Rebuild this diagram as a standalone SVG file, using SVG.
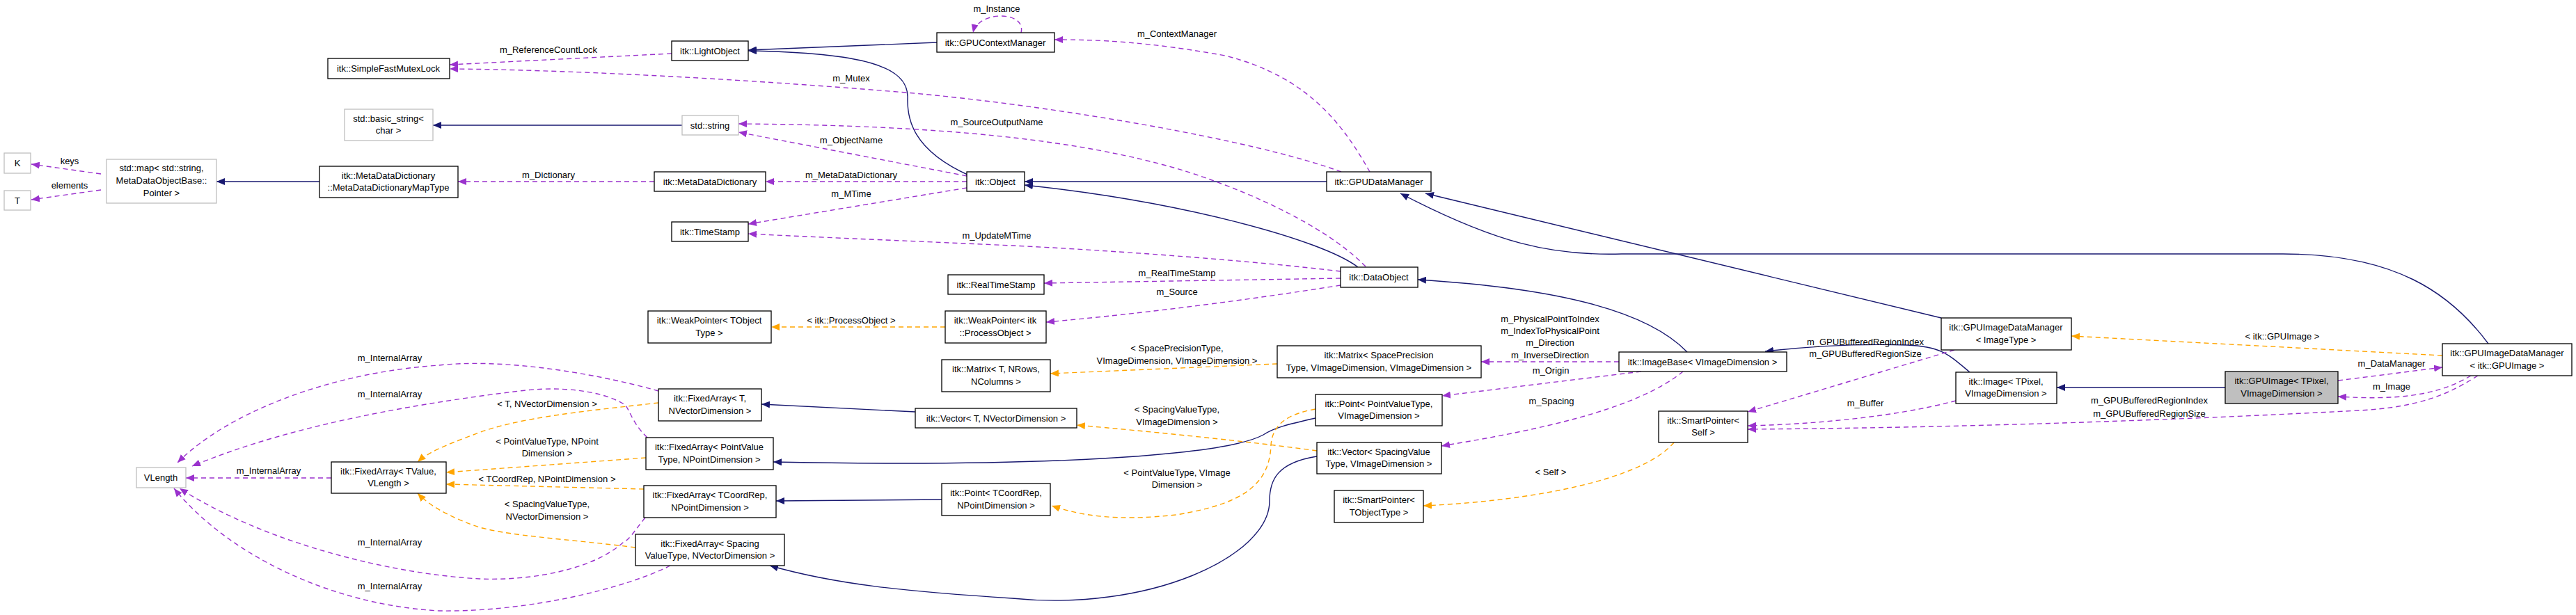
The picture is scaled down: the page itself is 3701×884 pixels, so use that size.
<svg xmlns="http://www.w3.org/2000/svg" width="3701" height="884" viewBox="0 0 3701 884">
<style>
text{font-family:"Liberation Sans",Arial,sans-serif;font-size:13px;fill:#000}
.n text{text-anchor:middle}
.n rect{fill:#fff;stroke:#000;stroke-width:1.3}
.g rect{stroke:#bfbfbf}
.sel rect{fill:#bfbfbf}
.e path{fill:none;stroke-width:1.4}
.inh{stroke:#191970}
.use{stroke:#9a32cd;stroke-dasharray:7,5}
.tpl{stroke:#ffa500;stroke-dasharray:7,5}
.lb text{text-anchor:middle}
</style>
<defs>
<marker id="an" markerUnits="userSpaceOnUse" markerWidth="13" markerHeight="10" refX="12" refY="5" orient="auto"><path d="M0,0L12,5L0,10z" fill="#191970"/></marker>
<marker id="ap" markerUnits="userSpaceOnUse" markerWidth="13" markerHeight="10" refX="12" refY="5" orient="auto"><path d="M0,0L12,5L0,10z" fill="#9a32cd"/></marker>
<marker id="ao" markerUnits="userSpaceOnUse" markerWidth="13" markerHeight="10" refX="12" refY="5" orient="auto"><path d="M0,0L12,5L0,10z" fill="#ffa500"/></marker>
</defs>
<rect width="3701" height="884" fill="#fff"/>
<g id="connectors" class="e">
<path class="inh" marker-end="url(#an)" d="M1346,61L1075,72"/>
<path class="inh" marker-end="url(#an)" d="M1392,252C1310,215 1303,170 1304,140C1305,95 1240,76 1075,73"/>
<path class="inh" marker-end="url(#an)" d="M1906,261L1472,261"/>
<path class="inh" marker-end="url(#an)" d="M1951,384C1900,345 1700,290 1472,266"/>
<path class="inh" marker-end="url(#an)" d="M2424,506C2370,450 2250,415 2037,402"/>
<path class="inh" marker-end="url(#an)" d="M2830,535C2800,510 2790,498 2740,496C2650,493 2580,500 2536,505"/>
<path class="inh" marker-end="url(#an)" d="M3197,557L2955,557"/>
<path class="inh" marker-end="url(#an)" d="M3575,494C3520,420 3440,365 3280,365L2330,365C2230,368 2150,350 2012,278"/>
<path class="inh" marker-end="url(#an)" d="M2789,457L2048,278"/>
<path class="inh" marker-end="url(#an)" d="M980,180L622,180"/>
<path class="inh" marker-end="url(#an)" d="M459,261L311,261"/>
<path class="inh" marker-end="url(#an)" d="M1315,592L1094,581"/>
<path class="inh" marker-end="url(#an)" d="M1353,718L1115,720"/>
<path class="inh" marker-end="url(#an)" d="M1890,601C1850,610 1830,615 1815,625C1760,655 1500,672 1111,664"/>
<path class="inh" marker-end="url(#an)" d="M1892,656C1835,665 1824,690 1824,720C1824,800 1650,880 1454,860C1300,850 1200,840 1106,813"/>
<path class="use" marker-end="url(#ap)" d="M965,77L646,93"/>
<path class="use" marker-end="url(#ap)" d="M1927,247C1800,200 1500,150 1301,133C1050,112 800,100 646,99"/>
<path class="use" marker-end="url(#ap)" d="M1968,247C1930,180 1880,110 1760,80C1650,60 1580,57 1515,57"/>
<path class="use" marker-end="url(#ap)" d="M1467,47C1475,15 1405,15 1398,47"/>
<path class="use" marker-end="url(#ap)" d="M1962,383C1900,320 1780,270 1700,245C1550,200 1350,180 1061,178"/>
<path class="use" marker-end="url(#ap)" d="M1389,253L1061,190"/>
<path class="use" marker-end="url(#ap)" d="M1389,261L1100,261"/>
<path class="use" marker-end="url(#ap)" d="M940,261L658,261"/>
<path class="use" marker-end="url(#ap)" d="M1389,270L1075,322"/>
<path class="use" marker-end="url(#ap)" d="M1926,390C1800,375 1600,360 1454,353C1300,346 1150,340 1075,336"/>
<path class="use" marker-end="url(#ap)" d="M1926,400L1500,407"/>
<path class="use" marker-end="url(#ap)" d="M1926,410C1800,430 1650,450 1503,463"/>
<path class="use" marker-end="url(#ap)" d="M2326,520L2128,520"/>
<path class="use" marker-end="url(#ap)" d="M2358,534L2072,569"/>
<path class="use" marker-end="url(#ap)" d="M2418,534C2350,590 2200,620 2071,641"/>
<path class="use" marker-end="url(#ap)" d="M2808,503L2511,592"/>
<path class="use" marker-end="url(#ap)" d="M2810,576C2720,600 2600,610 2511,612"/>
<path class="use" marker-end="url(#ap)" d="M3560,540C3520,565 3480,585 3390,590C3100,605 2800,615 2511,617"/>
<path class="use" marker-end="url(#ap)" d="M3359,547L3509,528"/>
<path class="use" marker-end="url(#ap)" d="M3550,540C3500,570 3440,575 3359,570"/>
<path class="use" marker-end="url(#ap)" d="M476,687L267,687"/>
<path class="use" marker-end="url(#ap)" d="M946,562C850,535 720,515 631,525C480,535 330,590 255,665"/>
<path class="use" marker-end="url(#ap)" d="M930,629C905,605 905,585 895,580C860,560 800,555 746,562C600,580 420,610 276,670"/>
<path class="use" marker-end="url(#ap)" d="M927,744C910,765 905,775 895,780C850,820 760,835 689,832C560,825 380,780 258,702"/>
<path class="use" marker-end="url(#ap)" d="M963,813C900,845 760,880 631,878C480,870 330,800 250,702"/>
<path class="use" marker-end="url(#ap)" d="M145,250L45,236"/>
<path class="use" marker-end="url(#ap)" d="M145,273L45,287"/>
<path class="tpl" marker-end="url(#ao)" d="M946,579C850,590 740,600 680,625C640,640 615,650 600,664"/>
<path class="tpl" marker-end="url(#ao)" d="M928,658L641,679"/>
<path class="tpl" marker-end="url(#ao)" d="M925,703L641,696"/>
<path class="tpl" marker-end="url(#ao)" d="M913,787C820,775 720,770 680,755C640,740 615,725 600,709"/>
<path class="tpl" marker-end="url(#ao)" d="M1358,470L1108,470"/>
<path class="tpl" marker-end="url(#ao)" d="M1835,523L1509,537"/>
<path class="tpl" marker-end="url(#ao)" d="M1892,648C1800,635 1650,620 1547,611"/>
<path class="tpl" marker-end="url(#ao)" d="M1890,588C1850,595 1828,610 1826,640C1824,700 1780,725 1690,740C1600,750 1550,740 1511,727"/>
<path class="tpl" marker-end="url(#ao)" d="M2405,636C2360,690 2200,720 2045,727"/>
<path class="tpl" marker-end="url(#ao)" d="M3509,511L2976,483"/>
</g>
<g id="labels" class="lb">
<text x="788" y="76">m_ReferenceCountLock</text>
<text x="100" y="236">keys</text>
<text x="100" y="271">elements</text>
<text x="788" y="256">m_Dictionary</text>
<text x="1432" y="17">m_Instance</text>
<text x="1691" y="53">m_ContextManager</text>
<text x="1223" y="117">m_Mutex</text>
<text x="1432" y="180">m_SourceOutputName</text>
<text x="1223" y="206">m_ObjectName</text>
<text x="1223" y="256">m_MetaDataDictionary</text>
<text x="1223" y="283">m_MTime</text>
<text x="1432" y="343">m_UpdateMTime</text>
<text x="1691" y="397">m_RealTimeStamp</text>
<text x="1691" y="424">m_Source</text>
<text x="1223" y="465">&lt; itk::ProcessObject &gt;</text>
<text x="1691" y="505">&lt; SpacePrecisionType,</text>
<text x="1691" y="523">VImageDimension, VImageDimension &gt;</text>
<text x="1691" y="593">&lt; SpacingValueType,</text>
<text x="1691" y="611">VImageDimension &gt;</text>
<text x="1691" y="684">&lt; PointValueType, VImage</text>
<text x="1691" y="701">Dimension &gt;</text>
<text x="560" y="519">m_InternalArray</text>
<text x="560" y="571">m_InternalArray</text>
<text x="786" y="585">&lt; T, NVectorDimension &gt;</text>
<text x="786" y="639">&lt; PointValueType, NPoint</text>
<text x="786" y="656">Dimension &gt;</text>
<text x="786" y="693">&lt; TCoordRep, NPointDimension &gt;</text>
<text x="786" y="729">&lt; SpacingValueType,</text>
<text x="786" y="747">NVectorDimension &gt;</text>
<text x="386" y="681">m_InternalArray</text>
<text x="560" y="784">m_InternalArray</text>
<text x="560" y="847">m_InternalArray</text>
<text x="2227" y="463">m_PhysicalPointToIndex</text>
<text x="2227" y="480">m_IndexToPhysicalPoint</text>
<text x="2227" y="497">m_Direction</text>
<text x="2227" y="515">m_InverseDirection</text>
<text x="2228" y="537">m_Origin</text>
<text x="2229" y="581">m_Spacing</text>
<text x="2680" y="496">m_GPUBufferedRegionIndex</text>
<text x="2680" y="513">m_GPUBufferedRegionSize</text>
<text x="2680" y="584">m_Buffer</text>
<text x="2228" y="683">&lt; Self &gt;</text>
<text x="3279" y="488">&lt; itk::GPUImage &gt;</text>
<text x="3436" y="527">m_DataManager</text>
<text x="3436" y="560">m_Image</text>
<text x="3088" y="580">m_GPUBufferedRegionIndex</text>
<text x="3088" y="599">m_GPUBufferedRegionSize</text>
</g>
<g id="n1" class="n"><rect x="471" y="84" width="175" height="29"/><text x="558" y="103">itk::SimpleFastMutexLock</text></g>
<g id="n2" class="n g"><rect x="495" y="157" width="127" height="45"/><text x="558" y="175">std::basic_string&lt;</text><text x="558" y="192">char &gt;</text></g>
<g id="n3" class="n g"><rect x="6" y="220" width="38" height="29"/><text x="25" y="239">K</text></g>
<g id="n4" class="n g"><rect x="6" y="274" width="38" height="28"/><text x="25" y="293">T</text></g>
<g id="n5" class="n g"><rect x="153" y="229" width="158" height="63"/><text x="232" y="246">std::map&lt; std::string,</text><text x="232" y="264">MetaDataObjectBase::</text><text x="232" y="282">Pointer &gt;</text></g>
<g id="n6" class="n"><rect x="459" y="239" width="199" height="45"/><text x="558" y="257">itk::MetaDataDictionary</text><text x="558" y="274">::MetaDataDictionaryMapType</text></g>
<g id="n7" class="n g"><rect x="196" y="672" width="71" height="29"/><text x="231" y="691">VLength</text></g>
<g id="n8" class="n"><rect x="476" y="664" width="165" height="45"/><text x="558" y="682">itk::FixedArray&lt; TValue,</text><text x="558" y="699">VLength &gt;</text></g>
<g id="n9" class="n"><rect x="965" y="59" width="110" height="28"/><text x="1020" y="78">itk::LightObject</text></g>
<g id="n10" class="n"><rect x="1346" y="47" width="169" height="28"/><text x="1430" y="66">itk::GPUContextManager</text></g>
<g id="n11" class="n g"><rect x="980" y="166" width="81" height="28"/><text x="1020" y="185">std::string</text></g>
<g id="n12" class="n"><rect x="940" y="247" width="160" height="28"/><text x="1020" y="266">itk::MetaDataDictionary</text></g>
<g id="n13" class="n"><rect x="1389" y="247" width="83" height="28"/><text x="1430" y="266">itk::Object</text></g>
<g id="n14" class="n"><rect x="965" y="319" width="110" height="28"/><text x="1020" y="338">itk::TimeStamp</text></g>
<g id="n15" class="n"><rect x="1362" y="395" width="138" height="28"/><text x="1431" y="414">itk::RealTimeStamp</text></g>
<g id="n16" class="n"><rect x="931" y="447" width="177" height="46"/><text x="1019" y="465">itk::WeakPointer&lt; TObject</text><text x="1019" y="483">Type &gt;</text></g>
<g id="n17" class="n"><rect x="1358" y="447" width="145" height="46"/><text x="1430" y="465">itk::WeakPointer&lt; itk</text><text x="1430" y="483">::ProcessObject &gt;</text></g>
<g id="n18" class="n"><rect x="1353" y="517" width="156" height="46"/><text x="1431" y="535">itk::Matrix&lt; T, NRows,</text><text x="1431" y="553">NColumns &gt;</text></g>
<g id="n19" class="n"><rect x="946" y="559" width="148" height="46"/><text x="1020" y="577">itk::FixedArray&lt; T,</text><text x="1020" y="595">NVectorDimension &gt;</text></g>
<g id="n20" class="n"><rect x="1315" y="587" width="232" height="28"/><text x="1431" y="606">itk::Vector&lt; T, NVectorDimension &gt;</text></g>
<g id="n21" class="n"><rect x="928" y="629" width="183" height="46"/><text x="1019" y="647">itk::FixedArray&lt; PointValue</text><text x="1019" y="665">Type, NPointDimension &gt;</text></g>
<g id="n22" class="n"><rect x="925" y="698" width="190" height="46"/><text x="1020" y="716">itk::FixedArray&lt; TCoordRep,</text><text x="1020" y="734">NPointDimension &gt;</text></g>
<g id="n23" class="n"><rect x="1353" y="695" width="156" height="46"/><text x="1431" y="713">itk::Point&lt; TCoordRep,</text><text x="1431" y="731">NPointDimension &gt;</text></g>
<g id="n24" class="n"><rect x="913" y="768" width="214" height="45"/><text x="1020" y="786">itk::FixedArray&lt; Spacing</text><text x="1020" y="803">ValueType, NVectorDimension &gt;</text></g>
<g id="n25" class="n"><rect x="1906" y="247" width="150" height="28"/><text x="1981" y="266">itk::GPUDataManager</text></g>
<g id="n26" class="n"><rect x="1926" y="384" width="111" height="29"/><text x="1981" y="403">itk::DataObject</text></g>
<g id="n27" class="n"><rect x="1835" y="497" width="293" height="46"/><text x="1981" y="515">itk::Matrix&lt; SpacePrecision</text><text x="1981" y="533">Type, VImageDimension, VImageDimension &gt;</text></g>
<g id="n28" class="n"><rect x="2326" y="506" width="241" height="28"/><text x="2446" y="525">itk::ImageBase&lt; VImageDimension &gt;</text></g>
<g id="n29" class="n"><rect x="1890" y="567" width="182" height="45"/><text x="1981" y="585">itk::Point&lt; PointValueType,</text><text x="1981" y="602">VImageDimension &gt;</text></g>
<g id="n30" class="n"><rect x="1892" y="636" width="179" height="45"/><text x="1981" y="654">itk::Vector&lt; SpacingValue</text><text x="1981" y="671">Type, VImageDimension &gt;</text></g>
<g id="n31" class="n"><rect x="2383" y="591" width="128" height="45"/><text x="2447" y="609">itk::SmartPointer&lt;</text><text x="2447" y="626">Self &gt;</text></g>
<g id="n32" class="n"><rect x="1917" y="705" width="128" height="46"/><text x="1981" y="723">itk::SmartPointer&lt;</text><text x="1981" y="741">TObjectType &gt;</text></g>
<g id="n33" class="n"><rect x="2789" y="457" width="187" height="46"/><text x="2882" y="475">itk::GPUImageDataManager</text><text x="2882" y="493">&lt; ImageType &gt;</text></g>
<g id="n34" class="n"><rect x="2810" y="535" width="145" height="45"/><text x="2882" y="553">itk::Image&lt; TPixel,</text><text x="2882" y="570">VImageDimension &gt;</text></g>
<g id="n35" class="n sel"><rect x="3197" y="534" width="162" height="46"/><text x="3278" y="552">itk::GPUImage&lt; TPixel,</text><text x="3278" y="570">VImageDimension &gt;</text></g>
<g id="n36" class="n"><rect x="3509" y="494" width="186" height="46"/><text x="3602" y="512">itk::GPUImageDataManager</text><text x="3602" y="530">&lt; itk::GPUImage &gt;</text></g>
</svg>
